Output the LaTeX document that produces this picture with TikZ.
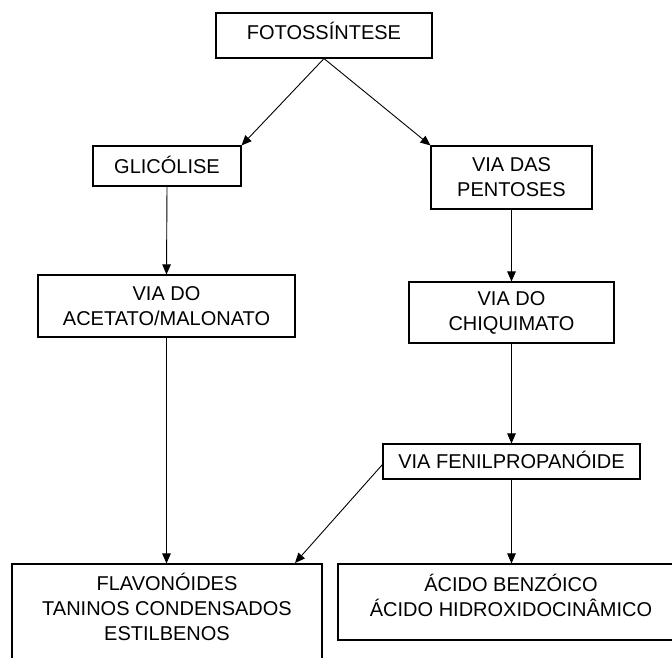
\documentclass[tikz,border=0pt]{standalone}
\usepackage{fontspec}
\setmainfont{Liberation Sans}
\usetikzlibrary{arrows.meta}
\begin{document}
\begin{tikzpicture}[x=1pt,y=-1pt,
  box/.style={draw, line width=1.1pt, inner sep=0pt, align=center, font=\fontsize{20}{25}\selectfont},
  one/.style={text height=15pt, text depth=0.7pt},
  txt/.style={inner sep=0pt, align=center, font=\fontsize{20}{25}\selectfont},
  arr/.style={line width=0.9pt, -{Triangle[length=10pt,width=8.5pt]}}]
\useasboundingbox (0,0) rectangle (672,657);
\fill[white] (0,0) rectangle (672,657);
\clip (0,0) rectangle (672,657);
\node[box, minimum width=216, minimum height=45, text height=15pt, text depth=7.7pt] (foto) at (324,35.5) {FOTOSSÍNTESE};
\node[box, one, minimum width=148, minimum height=40] (glic) at (167,166) {GLICÓLISE};
\node[box, minimum width=161, minimum height=63] (pent) at (511.5,177.5) {VIA DAS\\PENTOSES};
\node[box, minimum width=257, minimum height=62] (acet) at (166.5,306) {VIA DO\\ACETATO/MALONATO};
\node[box, minimum width=205, minimum height=61] (chiq) at (511.5,312.5) {VIA DO\\CHIQUIMATO};
\node[box, one, minimum width=257, minimum height=35] (fenil) at (511.5,461.5) {VIA FENILPROPANÓIDE};
\node[box, minimum width=310, minimum height=106] (flbox) at (167,617) {};
\node[txt] (fltxt) at (167,607) {FLAVONÓIDES\\TANINOS CONDENSADOS\\ESTILBENOS};
\node[box, minimum width=352, minimum height=76] (abbox) at (514,602) {};
\node[txt] (abtxt) at (511,595) {ÁCIDO BENZÓICO\\ÁCIDO HIDROXIDOCINÂMICO};
\coordinate (flin) at (295,563);
\draw[arr] (foto.south) -- (glic.north east);
\draw[arr] (foto.south) -- (pent.north west);
\draw[arr] (glic.south) -- (acet.north);
\draw[arr] (pent.south) -- (chiq.north);
\draw[arr] (chiq.south) -- (fenil.north);
\draw[arr] (acet.south) -- (acet.south |- flbox.north);
\draw[arr] ([yshift=-3pt]fenil.west) -- (flin);
\draw[arr] (fenil.south) -- (fenil.south |- abbox.north);
\end{tikzpicture}
\end{document}
